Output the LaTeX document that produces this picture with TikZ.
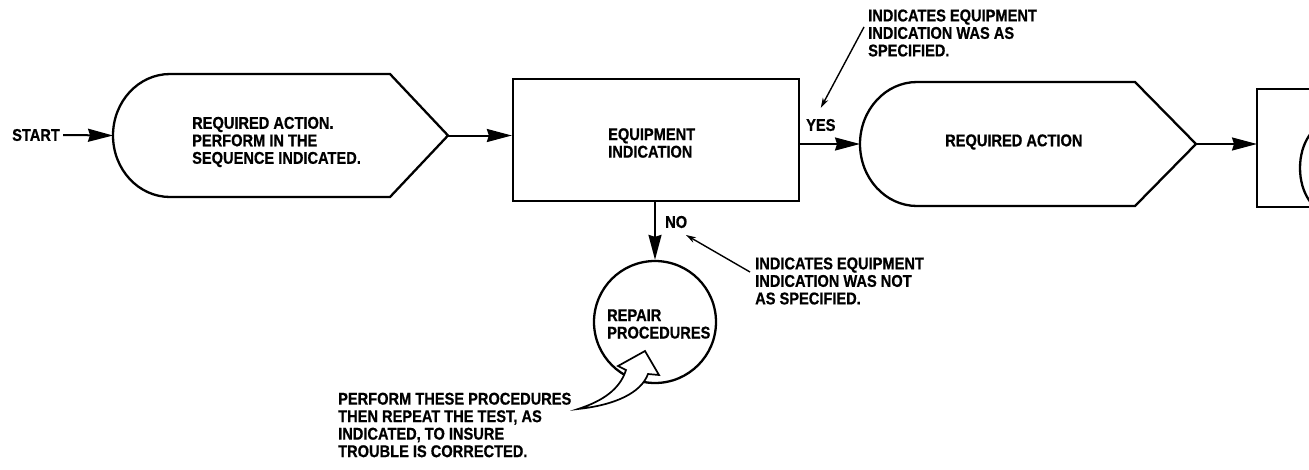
\documentclass[tikz,border=0pt]{standalone}
\usepackage{fontspec}
\setmainfont{Liberation Sans}[FakeStretch=0.86, BoldFeatures={FakeBold=0.7}]
\usetikzlibrary{arrows.meta}
\tikzset{
  shp/.style={line width=2.3pt, line join=miter},
  lbl/.style={font=\fontsize{17}{17.5}\selectfont\bfseries, align=left, inner sep=0pt},
  bigarrow/.style={line width=2pt, -{Stealth[length=25pt,width=13pt,inset=2pt]}},
  smallarrow/.style={line width=1.4pt, -{Stealth[length=10pt,width=6pt]}},
  hollow/.style={line width=1.7pt, fill=white, line join=miter},
}
\begin{document}
\begin{tikzpicture}[x=1pt,y=-1pt]
\useasboundingbox (0,0) rectangle (1309,469);
% START
\node[lbl, anchor=west] (start) at (12,135) {START};
% first action shape
\draw[shp] (170,74) -- (390,74) -- (448,135.5) -- (390,197) -- (170,197)
  arc[start angle=270, end angle=90, x radius=57pt, y radius=61.5pt] -- cycle;
\coordinate (s1w) at (113,135.5);
\coordinate (s1e) at (448,135.5);
\node[lbl, anchor=west] (s1t) at (192,142) {REQUIRED ACTION.\\PERFORM IN THE\\SEQUENCE INDICATED.};
\draw[bigarrow] ([xshift=3pt]start.east) -- (s1w);
% equipment indication box
\node[draw, shp, minimum width=286pt, minimum height=122pt, inner sep=0pt] (eq) at (656,140) {};
\node[lbl, anchor=west] (eqt) at (608,143) {EQUIPMENT\\INDICATION};
\draw[bigarrow] (s1e) -- (s1e -| eq.west);
% second action shape
\draw[shp] (917,82) -- (1135,82) -- (1196,144) -- (1135,206) -- (917,206)
  arc[start angle=270, end angle=90, x radius=57pt, y radius=62pt] -- cycle;
\coordinate (s2w) at (860,144);
\coordinate (s2e) at (1196,144);
\node[lbl, anchor=west] (s2t) at (945,142) {REQUIRED ACTION};
\draw[bigarrow] (eq.east |- s2w) -- (s2w);
\node[lbl, anchor=west] (yes) at (806,125) {YES};
% last (partial) box
\begin{scope}
\clip (0,0) rectangle (1309,469);
\draw[shp] (1320,89) -- (1257,89) -- (1257,207) -- (1320,207);
\draw[shp] (1330,168) ellipse [x radius=30pt, y radius=45pt];
\end{scope}
\coordinate (lbw) at (1257,144);
\draw[bigarrow] (s2e) -- (lbw);
% repair circle
\node[draw, circle, shp, minimum size=122pt, inner sep=0pt] (rep) at (655,322) {};
\node[lbl, anchor=west] (rept) at (607,324) {REPAIR\\PROCEDURES};
\draw[bigarrow] (rep.north |- eq.south) -- (rep.north);
\node[lbl, anchor=west] (no) at (665,222) {NO};
% annotations
\node[lbl, anchor=west] (ynote) at (868,33) {INDICATES EQUIPMENT\\INDICATION WAS AS\\SPECIFIED.};
\coordinate (ynoteT) at (864,27);
\draw[smallarrow] (ynoteT) -- ([yshift=11pt]yes.north);
\node[lbl, anchor=west] (nnote) at (755,281) {INDICATES EQUIPMENT\\INDICATION WAS NOT\\AS SPECIFIED.};
\coordinate (nnoteT) at (750,272);
\coordinate (nnoteH) at (686,235);
\draw[smallarrow] (nnoteT) -- (nnoteH);
\node[lbl, anchor=west] (pnote) at (338,425) {PERFORM THESE PROCEDURES\\THEN REPEAT THE TEST, AS\\INDICATED, TO INSURE\\TROUBLE IS CORRECTED.};
% hollow curved arrow
\coordinate (ptail) at (578,409);
\draw[hollow] (ptail) .. controls (603,401) and (620,389) .. (626,370)
  -- (618,366) -- (645,351) -- (659,375) -- (648,374)
  .. controls (641,393) and (615,405) .. (ptail) -- cycle;
\end{tikzpicture}
\end{document}
